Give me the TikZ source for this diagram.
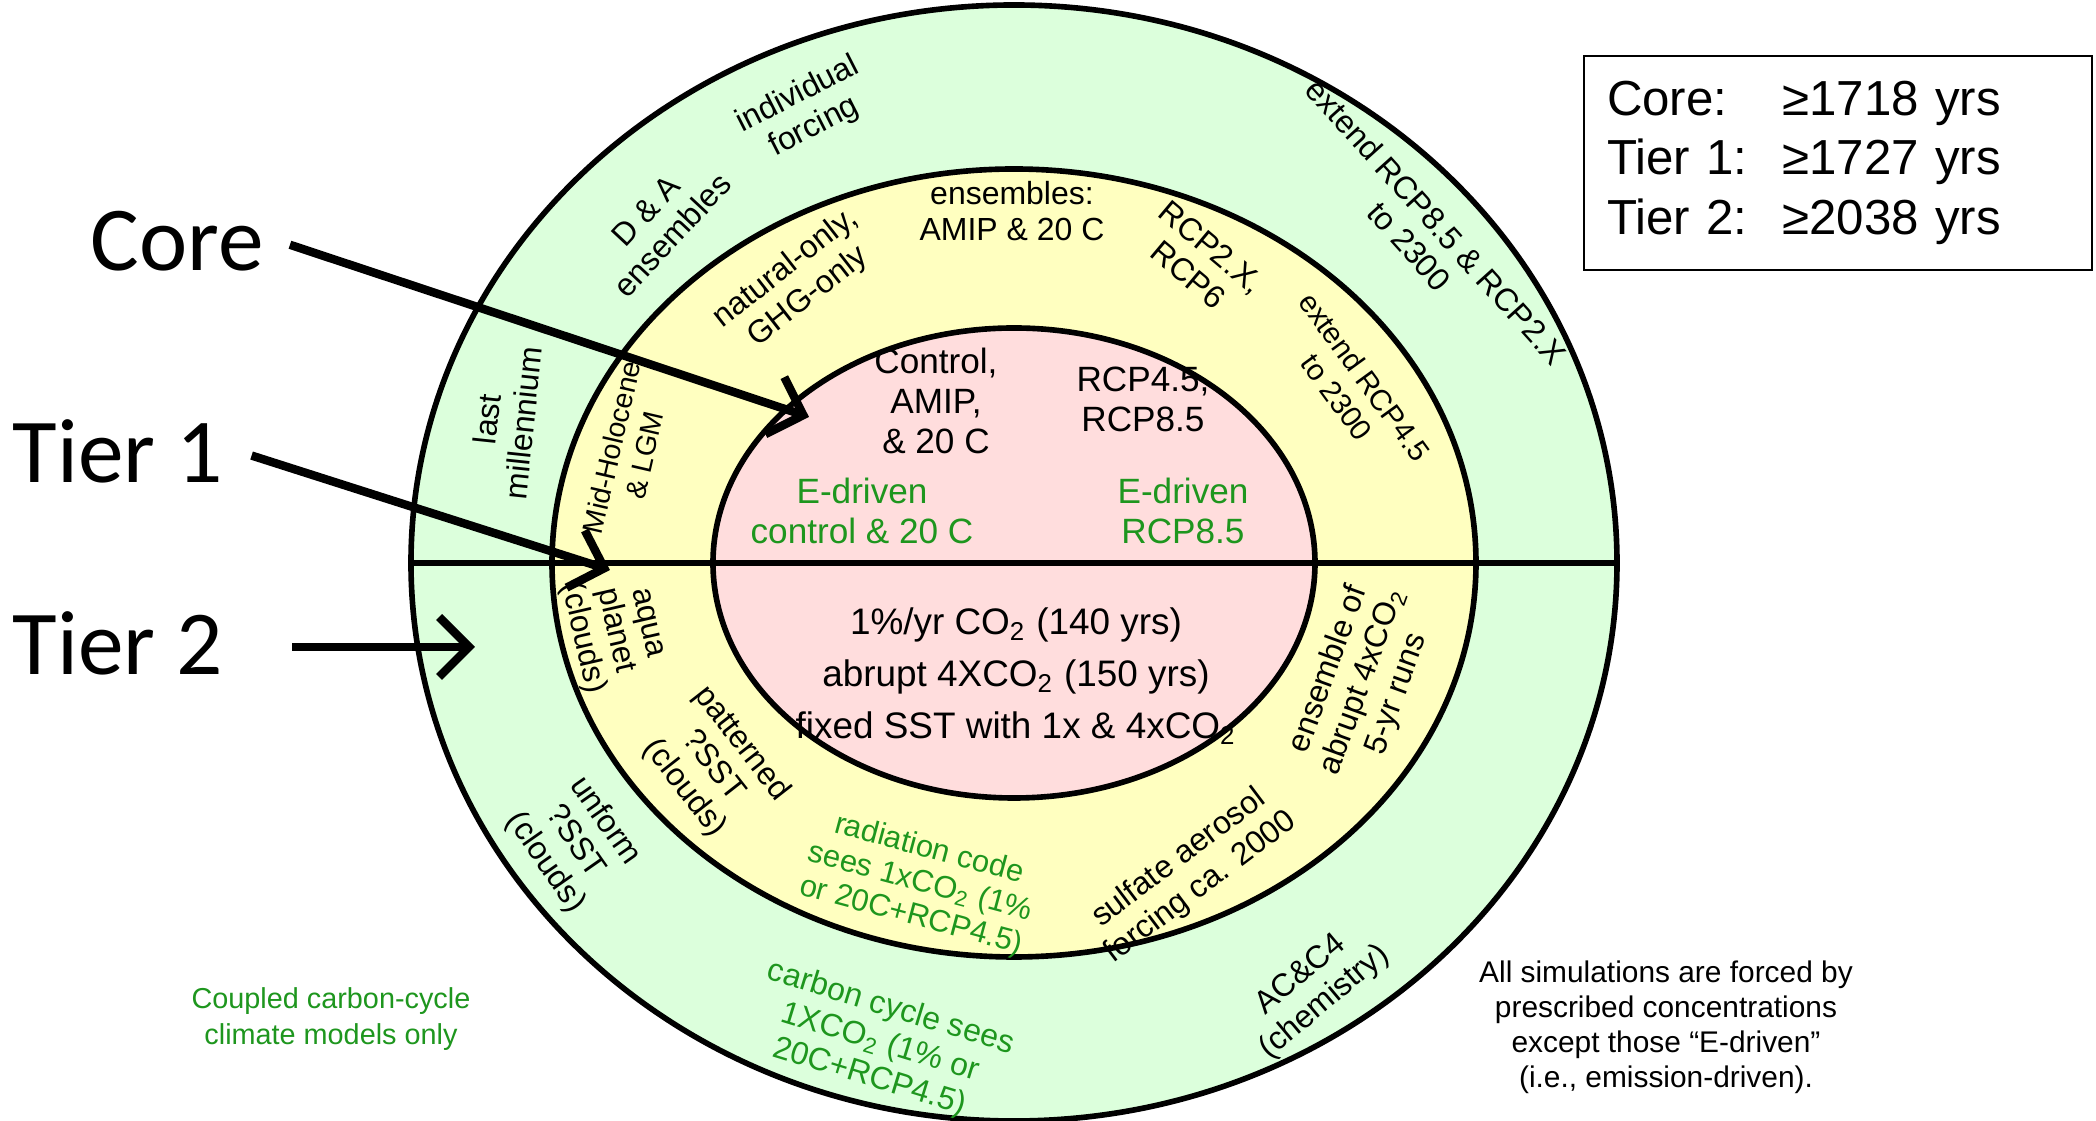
\documentclass[tikz,border=0pt]{standalone}
\usepackage{fontspec}
\setmainfont{Liberation Sans}
\newfontfamily\calibri{Carlito}
\usetikzlibrary{shapes.geometric, arrows.meta, positioning}

\definecolor{ringgreen}{RGB}{220,255,220}
\definecolor{ringyellow}{RGB}{255,255,192}
\definecolor{ringpink}{RGB}{255,221,221}
\definecolor{edriven}{RGB}{30,150,30}

\tikzstyle{ring} = [ellipse, draw, line width=1.6pt, inner sep=0pt]
\tikzstyle{divider} = [line width=1.7pt]
\tikzstyle{ringtext} = [align=center, inner sep=0pt, font=\fontsize{9.1}{10.3}\selectfont]
\tikzstyle{coretext} = [align=center, inner sep=0pt, font=\fontsize{10}{11.4}\selectfont]
\tikzstyle{etext} = [ringtext, text=edriven]
\tikzstyle{tier} = [font=\calibri\fontsize{26}{30}\selectfont, inner sep=4pt]
\tikzstyle{pointer} = [line width=2.4pt, -{Straight Barb[length=3mm, width=6mm]}]

\begin{document}
\begin{tikzpicture}

	\useasboundingbox (-10.14,-5.58) rectangle (10.82,5.63);

	% Rings
	\node (outer) [ring, fill=ringgreen, minimum width=12.06cm, minimum height=11.16cm] at (0,0) {};
	\node (middle) [ring, fill=ringyellow, minimum width=9.24cm, minimum height=7.88cm] at (0,0) {};
	\node (inner) [ring, fill=ringpink, minimum width=6.02cm, minimum height=4.70cm] at (0,0) {};
	\draw[divider] (outer.west) -- (outer.east);

	% Core
	\node (control) [coretext] at (-0.78,1.62) {Control,\\AMIP,\\\& 20 C};
	\node (rcp) [coretext] at (1.29,1.64) {RCP4.5,\\RCP8.5};
	\node (e_control) [coretext, text=edriven] at (-1.52,0.52) {E-driven\\control \& 20 C};
	\node (e_rcp) [coretext, text=edriven] at (1.69,0.52) {E-driven\\RCP8.5};
	\node (idealized) [coretext, font=\fontsize{10.5}{14.8}\selectfont] at (0.02,-1.13)
		{1\%/yr CO\textsubscript{2} (140 yrs)\\abrupt 4XCO\textsubscript{2} (150 yrs)\\fixed SST with 1x \& 4xCO\textsubscript{2}};

	% Tier 1
	\node (natural) [ringtext, rotate=38] at (-2.17,2.80) {natural-only,\\GHG-only};
	\node (ensembles) [ringtext] at (-0.02,3.52) {ensembles:\\AMIP \& 20 C};
	\node (rcp_other) [ringtext, rotate=-40] at (1.86,3.02) {RCP2.X,\\RCP6};
	\node (extend_45) [ringtext, rotate=-54, font=\fontsize{8.4}{9.8}\selectfont] at (3.37,1.76) {extend RCP4.5\\to 2300};
	\node (holocene) [ringtext, rotate=77, font=\fontsize{8.1}{9.6}\selectfont] at (-3.86,1.12) {Mid-Holocene\\\& LGM};
	\node (aqua) [ringtext, rotate=-77, font=\fontsize{9}{9.6}\selectfont] at (-4.01,-0.68) {aqua\\planet\\(clouds)};
	\node (patterned) [ringtext, rotate=-52] at (-3.01,-2.03) {patterned\\?SST\\(clouds)};
	\node (radiation) [etext, rotate=-15, font=\fontsize{8.8}{9.8}\selectfont] at (-0.94,-3.20) {radiation code\\sees 1xCO\textsubscript{2} (1\%\\or 20C+RCP4.5)};
	\node (sulfate) [ringtext, rotate=37] at (1.76,-3.10) {sulfate aerosol\\forcing ca. 2000};
	\node (abrupt_ens) [ringtext, rotate=70] at (3.49,-1.19) {ensemble of\\abrupt 4xCO\textsubscript{2}\\5-yr runs};

	% Tier 2
	\node (millennium) [ringtext, rotate=84] at (-5.09,1.42) {last\\millennium};
	\node (da) [ringtext, rotate=47] at (-3.55,3.40) {D \& A\\ensembles};
	\node (individual) [ringtext, rotate=27] at (-2.08,4.52) {individual\\forcing};
	\node (extend_85) [ringtext, rotate=-48] at (4.09,3.29) {extend RCP8.5 \& RCP2.X\\to 2300};
	\node (uniform) [ringtext, rotate=-55] at (-4.39,-2.79) {unform\\?SST\\(clouds)};
	\node (carbon) [etext, rotate=-17] at (-1.34,-4.80) {carbon cycle sees\\1XCO\textsubscript{2} (1\% or\\20C+RCP4.5)};
	\node (chemistry) [ringtext, rotate=40] at (2.99,-4.26) {AC\&C4\\(chemistry)};

	% Notes
	\node (coupled) [etext, font=\fontsize{8.2}{10}\selectfont] at (-6.83,-4.56) {Coupled carbon-cycle\\climate models only};
	\node (note) [ringtext, font=\fontsize{8.5}{10}\selectfont] at (6.52,-4.64)
		{All simulations are forced by\\prescribed concentrations\\except those “E-driven”\\(i.e., emission-driven).};
	\node (years) [draw, line width=0.6pt, text width=4.62cm, inner xsep=0.23cm, minimum height=2.14cm, align=left, font=\fontsize{14}{17}\selectfont] at (8.24,4.00)
		{\begin{tabular}{@{}l@{\hspace{0.35cm}}l@{}}Core: & ≥1718 yrs\\Tier 1: & ≥1727 yrs\\Tier 2: & ≥2038 yrs\end{tabular}};

	% Tier labels and arrows
	\node (core_lbl) [tier, anchor=west] at (-9.38,3.22) {Core};
	\node (tier1_lbl) [tier, anchor=west] at (-10.16,1.12) {Tier 1};
	\node (tier2_lbl) [tier, anchor=west] at (-10.16,-0.80) {Tier 2};
	\coordinate (core_tip) at (-2.05,1.46);
	\coordinate (tier1_tip) at (-4.04,-0.07);
	\coordinate (tier2_tip) at (-5.39,-0.84);
	\draw[pointer, shorten <=0.12cm] (core_lbl.east) -- (core_tip);
	\draw[pointer, shorten <=0.15cm] (tier1_lbl.east) -- (tier1_tip);
	\draw[pointer, shorten <=0.55cm] (tier2_lbl.east |- tier2_tip) -- (tier2_tip);

\end{tikzpicture}
\end{document}
